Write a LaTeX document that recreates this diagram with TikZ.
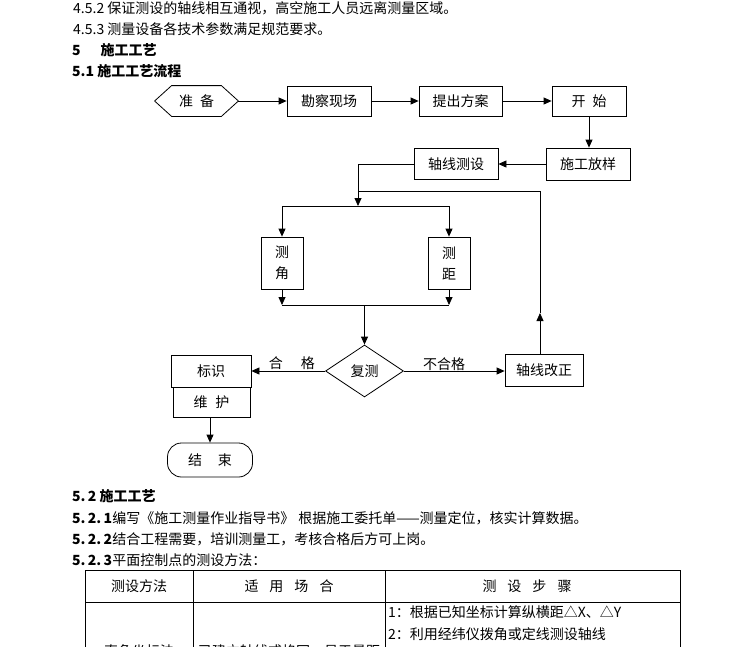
\documentclass[tikz,border=0pt]{standalone}
\usepackage{fontspec}
\setmainfont{Noto Sans CJK SC}
\usetikzlibrary{arrows.meta,shapes.geometric}
\newcommand\flowfont{\fontsize{14}{16}\selectfont}
\newcommand\bodyfont{\fontsize{14}{16}\selectfont}
\tikzset{
 ln/.style={line width=0.8pt},
 arr/.style={ln,-{Triangle[length=8pt,width=7pt]}},
 box/.style={draw,ln,inner sep=0pt,font=\flowfont},
 txt/.style={inner sep=0pt,anchor=west,font=\bodyfont},
 hd/.style={inner sep=0pt,anchor=west,font=\bodyfont\bfseries},
 lbl/.style={inner sep=1pt,font=\flowfont},
}
\begin{document}
\begin{tikzpicture}[x=1pt,y=-1pt]
\useasboundingbox (0,0) rectangle (750,646);
\clip (0,0) rectangle (750,646);
\fill[white] (0,0) rectangle (750,646);
% body text
\node[txt] (t1) at (73,8) {4.5.2 保证测设的轴线相互通视，高空施工人员远离测量区域。};
\node[txt] (t2) at (73,29) {4.5.3 测量设备各技术参数满足规范要求。};
\node[hd] (t3) at (72,50) {5\hspace{20pt}施工工艺};
\node[hd] (t4) at (72,71) {5.1 施工工艺流程};
\node[hd] (t5) at (72,496) {5.\,2 施工工艺};
\node[txt] (t6) at (72,518) {\textbf{5.\,2.\,1}编写《施工测量作业指导书》\hspace{4pt}根据施工委托单——测量定位，核实计算数据。};
\node[txt] (t7) at (72,539) {\textbf{5.\,2.\,2}结合工程需要，培训测量工，考核合格后方可上岗。};
\node[txt] (t8) at (72,560) {\textbf{5.\,2.\,3}平面控制点的测设方法：};
% flow nodes
\node[box,draw=none,minimum width=83pt,minimum height=30pt] (zb) at (196.5,101) {准\hspace{7pt}备};
\draw[ln] ([xshift=17pt]zb.north west) -- ([xshift=-17pt]zb.north east) -- (zb.east)
  -- ([xshift=-17pt]zb.south east) -- ([xshift=17pt]zb.south west) -- (zb.west) -- cycle;
\node[box,minimum width=84pt,minimum height=30pt] (kc) at (329,101) {勘察现场};
\node[box,minimum width=83pt,minimum height=30pt] (tc) at (460.5,101) {提出方案};
\node[box,minimum width=74pt,minimum height=30pt] (ks) at (589,101) {开\hspace{7pt}始};
\node[box,minimum width=84pt,minimum height=32pt] (sg) at (588,164) {施工放样};
\node[box,minimum width=84pt,minimum height=31pt] (zx) at (456,164) {轴线测设};
\node[box,minimum width=42pt,minimum height=52pt,align=center] (cj) at (282,263) {测\\[5pt]角};
\node[box,minimum width=42pt,minimum height=52pt,align=center] (cl) at (449,263) {测\\[5pt]距};
\node[box,diamond,aspect=1.5,minimum width=78pt,minimum height=52pt] (fc) at (364.5,371) {复测};
\node[box,minimum width=80pt,minimum height=32pt] (bs) at (211,371) {标识};
\node[box,minimum width=77pt,minimum height=30pt] (wh) at (211.5,402) {维\hspace{8pt}护};
\node[box,rounded corners=14pt,minimum width=85pt,minimum height=34pt] (js) at (210,460) {结\hspace{16pt}束};
\node[box,minimum width=78pt,minimum height=32pt] (gz) at (544,370) {轴线改正};
\coordinate (a1) at (358,206);
\coordinate (a2) at (364.5,305);
\coordinate (a3) at (540,313);
\coordinate (a4) at (358,191);
% connectors
\draw[arr] (zb.east) -- (kc.west);
\draw[arr] (kc) -- (tc);
\draw[arr] (tc) -- (ks);
\draw[arr] (ks.south) -- (ks.south |- sg.north);
\draw[arr] (sg) -- (zx);
\draw[arr] (zx.west) -| (a1);
\draw[ln] (cj.north |- a1) -- (cl.north |- a1);
\draw[arr] (cj.north |- a1) -- (cj.north);
\draw[arr] (cl.north |- a1) -- (cl.north);
\draw[arr] (cj.south) -- (cj.south |- a2);
\draw[arr] (cl.south) -- (cl.south |- a2);
\draw[ln] (cj.south |- a2) -- (cl.south |- a2);
\draw[arr] (a2) -- (fc.north);
\draw[arr] (fc.west) -- (fc.west -| bs.east) node[lbl,pos=0.45,above] {合\hspace{18pt}格};
\draw[arr] (fc.east) -- (fc.east -| gz.west) node[lbl,pos=0.4,above,inner sep=0.3pt] {不合格};
\draw[arr] (gz.north -| a3) -- (a3);
\draw[ln] (a3) |- (a4);
\draw[arr] (js.north |- wh.south) -- (js.north);
% table
\draw[ln] (85,570) rectangle (680,720);
\draw[ln] (85,602) -- (680,602);
\draw[ln] (193,570) -- (193,720);
\draw[ln] (385,570) -- (385,720);
\node[lbl] (h1) at (139,586) {测设方法};
\node[lbl] (h2) at (289,586) {适\hspace{11pt}用\hspace{11pt}场\hspace{11pt}合};
\node[lbl] (h3) at (527,586) {测\hspace{11pt}设\hspace{11pt}步\hspace{11pt}骤};
\node[txt,font=\flowfont] (r1) at (388,612) {1：根据已知坐标计算纵横距△X、△Y};
\node[txt,font=\flowfont] (r2) at (388,634) {2：利用经纬仪拨角或定线测设轴线};
\node[lbl] (c1) at (139,651) {直角坐标法};
\node[lbl] (c2) at (289,651) {已建立轴线或格网，易于量距};
\end{tikzpicture}
\end{document}
